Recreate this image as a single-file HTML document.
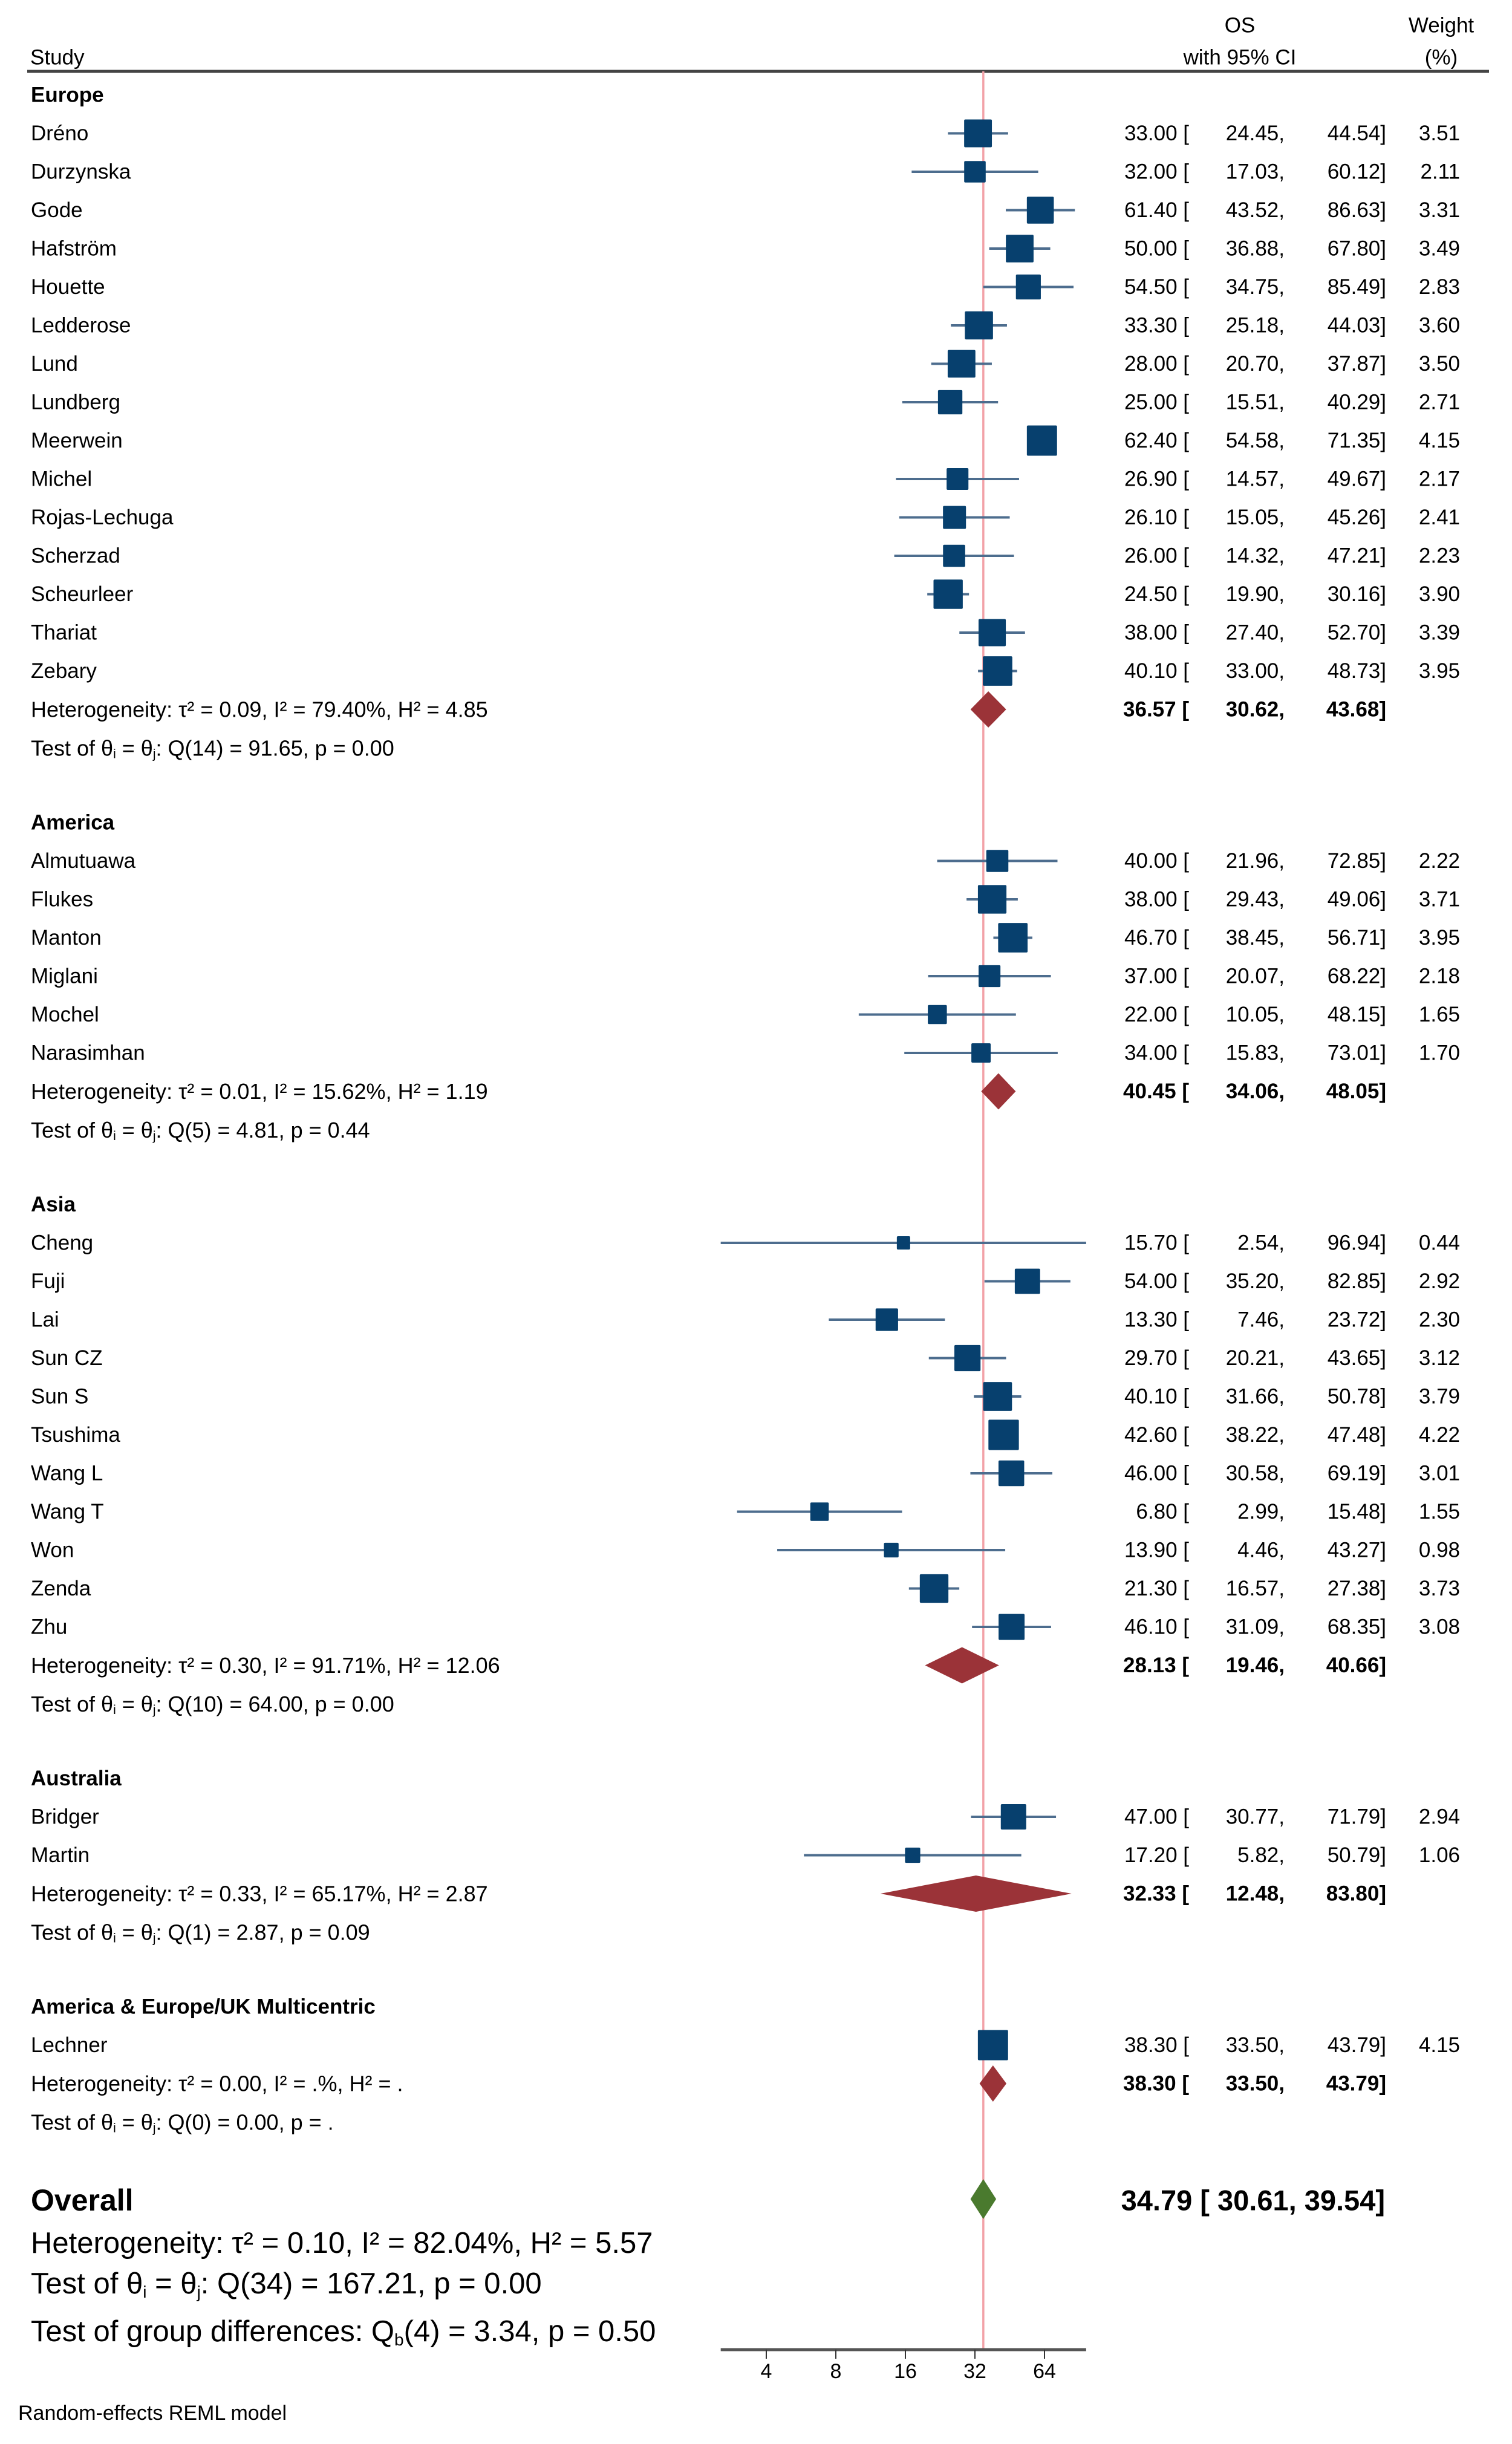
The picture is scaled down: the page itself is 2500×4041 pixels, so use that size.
<!DOCTYPE html>
<html><head><meta charset="utf-8"><style>
html,body{margin:0;padding:0;background:#fff;}
svg{display:block;font-family:"Liberation Sans",Arial,sans-serif;}
</style></head>
<body>
<svg id="chart" width="2500" height="4041" viewBox="0 0 2500 4041" xmlns="http://www.w3.org/2000/svg">
<rect x="0" y="0" width="2500" height="4041" fill="#fff"/>
<g id="header">
<text x="50" y="95" font-size="35" dominant-baseline="central">Study</text>
<text x="2050" y="42" font-size="35" text-anchor="middle" dominant-baseline="central">OS</text>
<text x="2050" y="95" font-size="35" text-anchor="middle" dominant-baseline="central">with 95% CI</text>
<text x="2383" y="42" font-size="35" text-anchor="middle" dominant-baseline="central">Weight</text>
<text x="2383" y="95" font-size="35" text-anchor="middle" dominant-baseline="central">(%)</text>
<line x1="45" y1="118" x2="2462" y2="118" stroke="#444" stroke-width="5"/>
</g>
<g id="rows"></g>
<g id="axis"></g>
<text x="30" y="3990" font-size="34" dominant-baseline="central">Random-effects REML model</text>
</svg>
<script>
const groupNames = ["Europe","America","Asia","Australia","America & Europe/UK Multicentric"];
const studyNames = [
 ["Dréno","Durzynska","Gode","Hafström","Houette","Ledderose","Lund","Lundberg","Meerwein","Michel","Rojas-Lechuga","Scherzad","Scheurleer","Thariat","Zebary"],
 ["Almutuawa","Flukes","Manton","Miglani","Mochel","Narasimhan"],
 ["Cheng","Fuji","Lai","Sun CZ","Sun S","Tsushima","Wang L","Wang T","Won","Zenda","Zhu"],
 ["Bridger","Martin"],
 ["Lechner"]
];
const estimates = [
 [33.00,32.00,61.40,50.00,54.50,33.30,28.00,25.00,62.40,26.90,26.10,26.00,24.50,38.00,40.10],
 [40.00,38.00,46.70,37.00,22.00,34.00],
 [15.70,54.00,13.30,29.70,40.10,42.60,46.00,6.80,13.90,21.30,46.10],
 [47.00,17.20],
 [38.30]
];
const lowerCI = [
 [24.45,17.03,43.52,36.88,34.75,25.18,20.70,15.51,54.58,14.57,15.05,14.32,19.90,27.40,33.00],
 [21.96,29.43,38.45,20.07,10.05,15.83],
 [2.54,35.20,7.46,20.21,31.66,38.22,30.58,2.99,4.46,16.57,31.09],
 [30.77,5.82],
 [33.50]
];
const upperCI = [
 [44.54,60.12,86.63,67.80,85.49,44.03,37.87,40.29,71.35,49.67,45.26,47.21,30.16,52.70,48.73],
 [72.85,49.06,56.71,68.22,48.15,73.01],
 [96.94,82.85,23.72,43.65,50.78,47.48,69.19,15.48,43.27,27.38,68.35],
 [71.79,50.79],
 [43.79]
];
const weights = [
 [3.51,2.11,3.31,3.49,2.83,3.60,3.50,2.71,4.15,2.17,2.41,2.23,3.90,3.39,3.95],
 [2.22,3.71,3.95,2.18,1.65,1.70],
 [0.44,2.92,2.30,3.12,3.79,4.22,3.01,1.55,0.98,3.73,3.08],
 [2.94,1.06],
 [4.15]
];
const groupEst = [36.57,40.45,28.13,32.33,38.30];
const groupLo = [30.62,34.06,19.46,12.48,33.50];
const groupHi = [43.68,48.05,40.66,83.80,43.79];
const groupTau2 = ["0.09","0.01","0.30","0.33","0.00"];
const groupI2 = ["79.40%","15.62%","91.71%","65.17%",".%"];
const groupH2 = ["4.85","1.19","12.06","2.87","."];
const groupQdf = [14,5,10,1,0];
const groupQ = ["91.65","4.81","64.00","2.87","0.00"];
const groupP = ["0.00","0.44","0.00","0.09","."];
const overall = [34.79,30.61,39.54];
const tickValues = [4,8,16,32,64];
const tickLabels = ["4","8","16","32","64"];

const NS="http://www.w3.org/2000/svg";
const rowsG=document.getElementById('rows');
const axisG=document.getElementById('axis');
function xScale(v){return 1612+115*Math.log2(v/32);}
function mk(tag,attrs,parent,txt){const e=document.createElementNS(NS,tag);for(const k in attrs)e.setAttribute(k,attrs[k]);if(txt!==undefined)e.textContent=txt;parent.appendChild(e);return e;}
function f2(v){return v.toFixed(2);}
const Y0=157,STEP=63.5,GAP=60;
const C1=1966,C2=2124,C3=2292,C4=2414;
let idx=0;
const ref=mk('line',{x1:xScale(overall[0]),y1:118,x2:xScale(overall[0]),y2:3885,stroke:'#f2a2a8','stroke-width':3.5},rowsG);


const FS=35;
groupNames.forEach((gn,g)=>{
 const yAt=i=>Y0+i*STEP+g*GAP;
 const gg=mk('g',{},rowsG);
 
 
 const h=mk('text',{x:51,y:yAt(idx),'font-size':FS,'font-weight':'bold','dominant-baseline':'central'},gg,gn);
 
 
 idx++;
 studyNames[g].forEach((sn,s)=>{
  const y=yAt(idx);
  const rg=mk('g',{},gg);
  
  
  const t=mk('text',{x:51,y:y,'font-size':FS,'dominant-baseline':'central'},rg,sn);
  
  
  const ci=mk('line',{x1:xScale(lowerCI[g][s]),x2:xScale(upperCI[g][s]),y1:y,y2:y,stroke:'#4d6d8e','stroke-width':4},rg);
  
  
  const side=Math.max(22,24.5*Math.sqrt(weights[g][s]));
  const b=mk('rect',{x:xScale(estimates[g][s])-side/2,y:y-side/2,width:side,height:side,fill:'#07406e',rx:2},rg);
  
  
  const c1=mk('text',{x:C1,y:y,'font-size':FS,'text-anchor':'end','dominant-baseline':'central'},rg,f2(estimates[g][s])+' [');
  
  
  const c2=mk('text',{x:C2,y:y,'font-size':FS,'text-anchor':'end','dominant-baseline':'central'},rg,f2(lowerCI[g][s])+',');
  
  
  const c3=mk('text',{x:C3,y:y,'font-size':FS,'text-anchor':'end','dominant-baseline':'central'},rg,f2(upperCI[g][s])+']');
  
  
  const c4=mk('text',{x:C4,y:y,'font-size':FS,'text-anchor':'end','dominant-baseline':'central'},rg,f2(weights[g][s]));
  
  
  idx++;
 });
 let y=yAt(idx);
 const ht=mk('text',{x:51,y:y,'font-size':36,'dominant-baseline':'central'},gg,'Heterogeneity: τ² = '+groupTau2[g]+', I² = '+groupI2[g]+', H² = '+groupH2[g]);
 
 
 const xl=xScale(groupLo[g]),xh=xScale(groupHi[g]),xe=xScale(groupEst[g]);
 const d=mk('polygon',{points:`${xl},${y} ${xe},${y-30} ${xh},${y} ${xe},${y+30}`,fill:'#9b3338'},gg);
 
 
 const s1=mk('text',{x:C1,y:y,'font-size':FS,'font-weight':'bold','text-anchor':'end','dominant-baseline':'central'},gg,f2(groupEst[g])+' [');
 
 
 const s2=mk('text',{x:C2,y:y,'font-size':FS,'font-weight':'bold','text-anchor':'end','dominant-baseline':'central'},gg,f2(groupLo[g])+',');
 
 
 const s3=mk('text',{x:C3,y:y,'font-size':FS,'font-weight':'bold','text-anchor':'end','dominant-baseline':'central'},gg,f2(groupHi[g])+']');
 
 
 idx++;
 y=yAt(idx);
 const tt=mk('text',{x:51,y:y,'font-size':36,'dominant-baseline':'central'},gg);
 
 
 mk('tspan',{},tt,'Test of θ');
 mk('tspan',{'font-size':21,dy:10},tt,'i');
 mk('tspan',{dy:-10},tt,' = θ');
 mk('tspan',{'font-size':21,dy:10},tt,'j');
 mk('tspan',{dy:-10},tt,': Q('+groupQdf[g]+') = '+groupQ[g]+', p = '+groupP[g]);
 idx++;
});
const og=mk('g',{},rowsG);


const ot=mk('text',{x:51,y:3638,'font-size':50,'font-weight':'bold','dominant-baseline':'central'},og,'Overall');


const oxl=xScale(overall[1]),oxh=xScale(overall[2]),oxe=xScale(overall[0]);
const od=mk('polygon',{points:`${oxl},3636 ${oxe},3603 ${oxh},3636 ${oxe},3669`,fill:'#4a7a2e'},og);


const ov=mk('text',{x:2290,y:3638,'font-size':47,'font-weight':'bold','text-anchor':'end','dominant-baseline':'central'},og,f2(overall[0])+' [ '+f2(overall[1])+',  '+f2(overall[2])+']');


const oh=mk('text',{x:51,y:3709,'font-size':49,'dominant-baseline':'central'},og,'Heterogeneity: τ² = 0.10, I² = 82.04%, H² = 5.57');


const otst=mk('text',{x:51,y:3776,'font-size':49,'dominant-baseline':'central'},og);


mk('tspan',{},otst,'Test of θ');
mk('tspan',{'font-size':28,dy:13},otst,'i');
mk('tspan',{dy:-13},otst,' = θ');
mk('tspan',{'font-size':28,dy:13},otst,'j');
mk('tspan',{dy:-13},otst,': Q(34) = 167.21, p = 0.00');
const gd=mk('text',{x:51,y:3855,'font-size':49,'dominant-baseline':'central'},og);


mk('tspan',{},gd,'Test of group differences: Q');
mk('tspan',{'font-size':28,dy:13},gd,'b');
mk('tspan',{dy:-13},gd,'(4) = 3.34, p = 0.50');
const al=mk('line',{x1:xScale(2.54),x2:xScale(96.94),y1:3885,y2:3885,stroke:'#555','stroke-width':5},axisG);


tickValues.forEach((v,i)=>{
 const x=xScale(v);
 const tk=mk('line',{x1:x,x2:x,y1:3885,y2:3900,stroke:'#333','stroke-width':2},axisG);
 
 
 const tl=mk('text',{x:x,y:3921,'font-size':34,'text-anchor':'middle','dominant-baseline':'central'},axisG,tickLabels[i]);
 
 
});
</script>
</body></html>
